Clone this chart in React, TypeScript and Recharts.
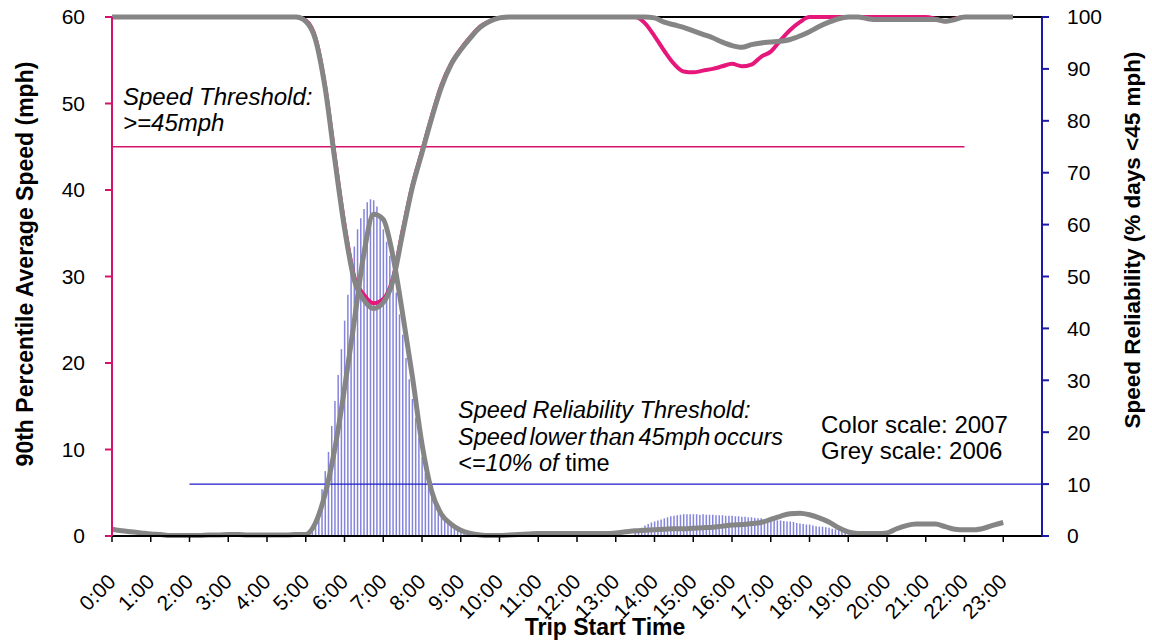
import { ComposedChart, Bar, Line, XAxis, YAxis, ReferenceLine } from 'recharts';

// hour axis
const HOUR_TICKS = [0, 1, 2, 3, 4, 5, 6, 7, 8, 9, 10, 11, 12, 13, 14, 15, 16, 17, 18, 19, 20, 21, 22, 23];
const HOUR_LABELS = [
  '0:00', '1:00', '2:00', '3:00', '4:00', '5:00', '6:00', '7:00', '8:00', '9:00', '10:00', '11:00',
  '12:00', '13:00', '14:00', '15:00', '16:00', '17:00', '18:00', '19:00', '20:00', '21:00', '22:00', '23:00',
];
const SPEED_TICKS = [0, 10, 20, 30, 40, 50, 60];
const RELIABILITY_TICKS = [0, 10, 20, 30, 40, 50, 60, 70, 80, 90, 100];

// 90th percentile speed (mph), every 15 min from 0:00 to 23:15
const speed2007 = [
  60, 60, 60, 60, 60, 60, 60, 60, 60, 60, 60, 60, 60, 60, 60, 60, 60, 60, 60, 60,
  59.6, 57.6, 52.0, 43.8, 36.0, 30.0, 27.9, 26.9, 27.4, 29.8, 35.3, 40.5, 44.5, 48.5, 52.1, 54.6,
  56.3, 57.7, 58.9, 59.5, 59.9,
  60, 60, 60, 60, 60, 60, 60, 60, 60, 60, 60, 60, 60, 60,
  59.3, 57.8, 56.1, 54.6, 53.7, 53.6, 53.8, 54.0, 54.3, 54.6, 54.3, 54.5, 55.4, 56.0, 57.3, 58.5, 59.4, 60,
  60, 60, 60, 60, 60, 60, 60, 60, 60, 60, 60, 60,
  59.8, 59.5, 59.8,
  60, 60, 60, 60, 60, 60,
];
const speed2006 = [
  60, 60, 60, 60, 60, 60, 60, 60, 60, 60, 60, 60, 60, 60, 60, 60, 60, 60, 60, 60,
  59.5, 57.4, 51.8, 43.5, 35.6, 29.6, 27.3, 26.3, 27.0, 29.5, 35.0, 40.3, 44.3, 48.3, 51.9, 54.5,
  56.2, 57.6, 58.8, 59.5, 59.9,
  60, 60, 60, 60, 60, 60, 60, 60, 60, 60, 60, 60, 60, 60, 60,
  59.9, 59.4, 59.1, 58.8, 58.4, 58.0, 57.6, 57.1, 56.7, 56.5, 56.8, 57.0, 57.1, 57.2, 57.4, 57.8,
  58.3, 58.9, 59.4, 59.8,
  60, 60, 59.8,
  59.7, 59.7, 59.7, 59.7, 59.7, 59.7, 59.7,
  59.5, 59.7,
  60, 60, 60, 60, 60, 60,
];

// speed reliability 2006 (% days < 45 mph), every 15 min from 0:00 to 23:00
const reliability2006 = [
  1.3, 1.0, 0.8, 0.6, 0.4, 0.3, 0.1, 0.1, 0.1, 0.1, 0.2, 0.2, 0.3, 0.3, 0.2, 0.2,
  0.2, 0.2, 0.2, 0.3, 0.3, 2.5, 8.1, 16.8, 28.4, 41.3, 54.4, 62.0, 61.0, 53.9, 42.8, 30.8,
  17.7, 8.6, 4.2, 2.3, 1.1, 0.5, 0.2, 0.1, 0.1, 0.2, 0.3, 0.4, 0.5, 0.5, 0.5, 0.5,
  0.5, 0.5, 0.5, 0.5, 0.6, 0.8, 1.0, 1.1, 1.2, 1.3, 1.4, 1.4, 1.5, 1.6, 1.7, 1.9,
  2.1, 2.2, 2.4, 2.6, 3.2, 3.8, 4.3, 4.4, 4.1, 3.5, 2.7, 1.6, 0.8, 0.5, 0.5, 0.5,
  0.6, 1.4, 2.0, 2.3, 2.3, 2.3, 1.8, 1.3, 1.2, 1.2, 1.5, 2.1, 2.6,
];

// speed reliability 2007 bars, every 5 min
const MORNING_BARS_FROM = 5 + 5 / 60;
const morningBars2007 = [
  0.3, 0.8, 2, 5, 9, 12.5, 16.2, 21.2, 26, 31, 36, 41.5, 46.5, 51.3, 55.8, 59.1,
  61.2, 63, 64.3, 64.9, 64.7, 63.5, 61.4, 59.1, 56.7, 54, 50.7, 46.9, 42.7, 38.8, 34.3, 30.2,
  26.4, 22.8, 19, 15.2, 12.1, 9.5, 7.6, 6.2, 4.9, 3.9, 3.1, 2.5, 1.9, 1.5, 1.2, 0.9,
  0.6, 0.4, 0.3, 0.2,
];
const AFTERNOON_BARS_FROM = 13.5;
const afternoonBars2007 = [
  0.8, 1.2, 1.6, 2.0, 2.3, 2.6, 2.8, 3.0, 3.2, 3.4, 3.6, 3.8, 3.9, 4.0, 4.1, 4.2,
  4.2, 4.2, 4.2, 4.2, 4.1, 4.2, 4.1, 4.1, 4.1, 4.0, 4.0, 4.0, 3.9, 3.9, 3.9, 3.8,
  3.8, 3.7, 3.7, 3.6, 3.6, 3.5, 3.4, 3.4, 3.3, 3.2, 3.2, 3.1, 3.0, 3.0, 2.9, 2.8,
  2.8, 2.7, 2.5, 2.4, 2.3, 2.2, 2.2, 2.0, 1.9, 1.8, 1.8, 1.7, 1.6, 1.4, 1.3, 1.2,
  1.0, 0.8, 0.6,
];

const STEPS_PER_HOUR = 12;
const morningStart = Math.round(MORNING_BARS_FROM * STEPS_PER_HOUR);
const afternoonStart = Math.round(AFTERNOON_BARS_FROM * STEPS_PER_HOUR);

const rows: any[] = [];
for (let k = 0; k < speed2007.length * 3 - 2; k++) {
  const row: any = { t: k / STEPS_PER_HOUR };
  if (k % 3 === 0) {
    const q = k / 3;
    row.speed2007 = speed2007[q];
    row.speed2006 = speed2006[q];
    if (q < reliability2006.length) row.rel2006 = reliability2006[q];
  }
  const m = k - morningStart;
  if (m >= 0 && m < morningBars2007.length) row.rel2007 = morningBars2007[m];
  const a = k - afternoonStart;
  if (a >= 0 && a < afternoonBars2007.length) row.rel2007 = afternoonBars2007[a];
  rows.push(row);
}

const FONT = '"Liberation Sans", Arial, sans-serif';
const PINK = '#e5177a';
const PINK_AXIS = '#d4146c';
const BLUE_AXIS = '#1a1aa6';
const GREY = '#858585';
const BAR_BLUE = '#8484dc';

function HourTick(props: any) {
  const { x, y, payload } = props;
  const px = x + 5;
  const py = y + 39;
  return (
    <text x={px} y={py} transform={`rotate(-45 ${px} ${py})`} textAnchor="end"
      fontSize={21} fontFamily={FONT} fill="#000">
      {HOUR_LABELS[payload.value]}
    </text>
  );
}

export default function App() {
  return (
    <div style={{ position: 'absolute', left: 0, top: 0, width: 1152, height: 640, background: '#fff' }}>
      <ComposedChart width={1152} height={640} data={rows}
        margin={{ top: 17, right: 50, bottom: 0, left: 52 }}>
        <XAxis dataKey="t" type="number" domain={[0, 24]} ticks={HOUR_TICKS} interval={0}
          height={104} tick={(p: any) => <HourTick {...p} />}
          axisLine={{ stroke: '#000', strokeWidth: 2 }} tickLine={{ stroke: '#000', strokeWidth: 1.5 }} tickSize={6} tickMargin={2} />
        <YAxis yAxisId="left" domain={[0, 60]} ticks={SPEED_TICKS} width={60} interval={0}
          axisLine={{ stroke: PINK_AXIS, strokeWidth: 2 }} tickLine={{ stroke: PINK_AXIS, strokeWidth: 2 }}
          tickSize={7} tickMargin={20} tick={{ fontSize: 21, fill: '#000', fontFamily: FONT }} />
        <YAxis yAxisId="right" orientation="right" domain={[0, 100]} ticks={RELIABILITY_TICKS} width={60} interval={0}
          axisLine={{ stroke: BLUE_AXIS, strokeWidth: 2 }} tickLine={{ stroke: BLUE_AXIS, strokeWidth: 2 }}
          tickSize={7} tickMargin={18} tick={{ fontSize: 21, fill: '#000', fontFamily: FONT }} />
        <ReferenceLine yAxisId="left" y={60} stroke="#000" strokeWidth={2} />
        <Bar yAxisId="right" dataKey="rel2007" fill={BAR_BLUE} barSize={1.5} isAnimationActive={false} />
        <ReferenceLine yAxisId="left" segment={[{ x: 0, y: 45 }, { x: 22, y: 45 }]} stroke={PINK_AXIS} strokeWidth={1.3} />
        <ReferenceLine yAxisId="right" segment={[{ x: 2, y: 10 }, { x: 24, y: 10 }]} stroke="#1c1cc8" strokeWidth={1.3} />
        <Line yAxisId="left" type="monotone" dataKey="speed2007" stroke={PINK} strokeWidth={4}
          dot={false} connectNulls isAnimationActive={false} />
        <Line yAxisId="left" type="monotone" dataKey="speed2006" stroke={GREY} strokeWidth={5}
          dot={false} connectNulls isAnimationActive={false} />
        <Line yAxisId="right" type="monotone" dataKey="rel2006" stroke={GREY} strokeWidth={5}
          dot={false} connectNulls isAnimationActive={false} />
      </ComposedChart>

      <svg width={1152} height={640} style={{ position: 'absolute', left: 0, top: 0, pointerEvents: 'none' }}
        fontFamily={FONT}>
        <text x={33} y={264} textAnchor="middle" fontSize={23} fontWeight="bold"
          transform="rotate(-90 33 264)">90th Percentile Average Speed (mph)</text>
        <text x={1140} y={240} textAnchor="middle" fontSize={22.5} fontWeight="bold"
          transform="rotate(-90 1140 240)">Speed Reliability (% days &lt;45 mph)</text>
        <text x={605} y={635} textAnchor="middle" fontSize={23} fontWeight="bold">Trip Start Time</text>

        <g fontSize={24} fontStyle="italic">
          <text x={123} y={105}>Speed Threshold:</text>
          <text x={123} y={131}>&gt;=45mph</text>
        </g>
        <g fontSize={23.5} fontStyle="italic">
          <text x={458} y={418}>Speed Reliability Threshold:</text>
          <text x={458} y={445} wordSpacing={-3}>Speed lower than 45mph occurs</text>
          <text x={458} y={471}>
            &lt;=10% of <tspan fontStyle="normal">time</tspan>
          </text>
        </g>
        <g fontSize={24}>
          <text x={821} y={433}>Color scale: 2007</text>
          <text x={821} y={459}>Grey scale: 2006</text>
        </g>
      </svg>
    </div>
  );
}
